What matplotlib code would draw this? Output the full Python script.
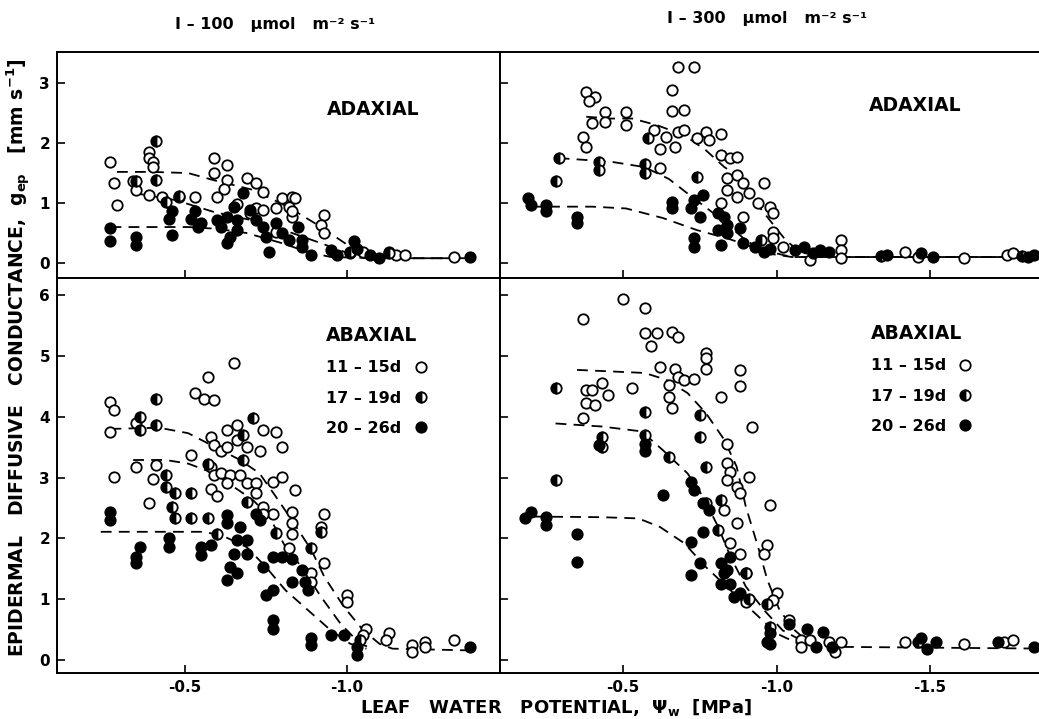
import matplotlib
matplotlib.use("Agg")
import matplotlib.pyplot as plt

plt.rcParams["font.family"] = ["DejaVu Sans"]
plt.rcParams["font.weight"] = "bold"
plt.rcParams["mathtext.default"] = "bf"

# ---- leaf water potential (MPa) and conductance (mm s-1) ----
# I = 100, adaxial
tl_open_x = [-0.27, -0.28, -0.29, -0.39, -0.39, -0.40, -0.40, -0.34, -0.35, -0.39,
             -0.43, -0.48, -0.53, -0.59, -0.63, -0.59, -0.63, -0.69, -0.72, -0.74,
             -0.62, -0.60, -0.66, -0.80, -0.83, -0.82, -0.78, -0.72, -0.74, -0.83,
             -0.78, -0.70, -0.84, -0.83, -0.93, -0.92, -0.93, -1.13, -1.15, -1.18,
             -1.33, -1.01, -1.05]
tl_open_y = [1.69, 1.34, 0.97, 1.86, 1.76, 1.69, 1.60, 1.36, 1.22, 1.13,
             1.10, 1.10, 1.10, 1.76, 1.63, 1.50, 1.38, 1.41, 1.33, 1.19,
             1.24, 1.10, 0.99, 1.08, 1.10, 0.94, 0.91, 0.92, 0.88, 0.77,
             0.52, 0.83, 1.08, 0.86, 0.80, 0.63, 0.50, 0.19, 0.13, 0.13,
             0.10, 0.16, 0.19]
tl_half_x = [-0.41, -0.41, -0.35, -0.48, -0.44, -1.01, -1.13]
tl_half_y = [2.04, 1.38, 1.36, 1.12, 1.02, 0.19, 0.16]
tl_full_x = [-0.27, -0.27, -0.35, -0.35, -0.46, -0.45, -0.46, -0.52, -0.53, -0.54,
             -0.55, -0.60, -0.61, -0.63, -0.64, -0.63, -0.66, -0.66, -0.65, -0.68,
             -0.70, -0.72, -0.74, -0.75, -0.76, -0.78, -0.80, -0.82, -0.85, -0.86,
             -0.89, -0.86, -0.95, -0.97, -1.02, -1.03, -1.07, -1.10, -1.38]
tl_full_y = [0.58, 0.36, 0.44, 0.30, 0.47, 0.74, 0.86, 0.74, 0.86, 0.60,
             0.66, 0.72, 0.60, 0.77, 0.44, 0.33, 0.55, 0.72, 0.94, 1.16,
             0.88, 0.72, 0.60, 0.44, 0.19, 0.66, 0.50, 0.38, 0.60, 0.38,
             0.13, 0.27, 0.22, 0.13, 0.36, 0.24, 0.13, 0.08, 0.10]
tl_fit_open_x = [-0.29, -0.40, -0.51, -0.59, -0.71, -0.82, -0.92, -1.01, -1.09, -1.20, -1.39]
tl_fit_open_y = [1.52, 1.52, 1.50, 1.38, 1.22, 0.93, 0.60, 0.27, 0.10, 0.08, 0.08]
tl_fit_half_x = [-0.34, -0.47, -0.59, -0.70, -0.82, -0.92, -1.00, -1.07, -1.20, -1.39]
tl_fit_half_y = [1.17, 1.05, 0.85, 0.72, 0.52, 0.33, 0.17, 0.10, 0.08, 0.08]
tl_fit_full_x = [-0.27, -0.40, -0.51, -0.60, -0.69, -0.80, -0.88, -0.95, -1.10, -1.39]
tl_fit_full_y = [0.60, 0.60, 0.60, 0.57, 0.50, 0.33, 0.18, 0.10, 0.08, 0.08]

# I = 300, adaxial
tr_open_x = [-0.68, -0.73, -0.66, -0.38, -0.41, -0.39, -0.66, -0.70, -0.44, -0.51,
             -0.40, -0.44, -0.51, -0.37, -0.38, -0.60, -0.64, -0.68, -0.70, -0.74,
             -0.77, -0.78, -0.82, -0.62, -0.67, -0.62, -0.82, -0.85, -0.87, -0.84,
             -0.87, -0.89, -0.84, -0.91, -0.87, -0.94, -0.82, -0.89, -0.96, -0.98,
             -0.99, -0.99, -0.99, -1.02, -1.11, -1.21, -1.21, -1.21, -1.42, -1.46,
             -1.61, -1.75, -1.77]
tr_open_y = [3.27, 3.27, 2.88, 2.86, 2.77, 2.70, 2.54, 2.56, 2.52, 2.52,
             2.33, 2.36, 2.30, 2.10, 1.93, 2.22, 2.10, 2.19, 2.22, 2.08,
             2.19, 2.05, 2.16, 1.90, 1.93, 1.58, 1.80, 1.75, 1.77, 1.41,
             1.47, 1.33, 1.22, 1.16, 1.10, 1.00, 1.00, 0.77, 1.33, 0.94,
             0.83, 0.52, 0.41, 0.27, 0.05, 0.38, 0.22, 0.08, 0.19, 0.10,
             0.08, 0.13, 0.16]
tr_half_x = [-0.29, -0.42, -0.42, -0.57, -0.57, -0.74, -0.58, -0.28, -0.95, -1.34, -1.80]
tr_half_y = [1.76, 1.69, 1.55, 1.66, 1.50, 1.44, 2.08, 1.37, 0.38, 0.12, 0.12]
tr_full_x = [-0.19, -0.20, -0.25, -0.25, -0.35, -0.35, -0.66, -0.66, -0.73, -0.76,
             -0.72, -0.75, -0.73, -0.73, -0.81, -0.83, -0.81, -0.84, -0.82, -0.88,
             -0.89, -0.84, -0.93, -0.96, -0.98, -1.06, -1.09, -1.12, -1.14, -1.17,
             -1.36, -1.47, -1.51, -1.84, -1.82]
tr_full_y = [1.08, 0.97, 0.97, 0.86, 0.77, 0.66, 1.02, 0.91, 1.05, 1.13,
             0.91, 0.77, 0.41, 0.27, 0.83, 0.77, 0.55, 0.63, 0.30, 0.58,
             0.33, 0.50, 0.27, 0.19, 0.24, 0.22, 0.27, 0.16, 0.22, 0.19,
             0.13, 0.16, 0.10, 0.13, 0.10]
tr_fit_open_x = [-0.38, -0.46, -0.53, -0.61, -0.70, -0.77, -0.83, -0.86, -0.96, -1.03, -1.08, -1.20, -1.89]
tr_fit_open_y = [2.44, 2.41, 2.41, 2.30, 2.13, 1.88, 1.60, 1.50, 0.83, 0.38, 0.17, 0.10, 0.10]
tr_fit_half_x = [-0.29, -0.46, -0.57, -0.65, -0.71, -0.81, -0.90, -0.97, -1.05, -1.89]
tr_fit_half_y = [1.75, 1.69, 1.60, 1.40, 1.16, 0.77, 0.38, 0.16, 0.10, 0.10]
tr_fit_full_x = [-0.20, -0.40, -0.51, -0.63, -0.74, -0.84, -0.95, -1.05, -1.89]
tr_fit_full_y = [0.94, 0.94, 0.91, 0.75, 0.55, 0.41, 0.22, 0.10, 0.10]

# I = 100, abaxial
bl_open_x = [-0.65, -0.57, -0.53, -0.56, -0.59, -0.27, -0.28, -0.27, -0.35, -0.66,
             -0.63, -0.74, -0.78, -0.58, -0.59, -0.69, -0.66, -0.73, -0.80, -0.52,
             -0.61, -0.63, -0.35, -0.41, -0.28, -0.40, -0.58, -0.59, -0.61, -0.64,
             -0.67, -0.63, -0.69, -0.72, -0.77, -0.80, -0.58, -0.60, -0.72, -0.39,
             -0.74, -0.77, -0.74, -0.84, -0.83, -0.93, -0.92, -0.83, -0.83, -0.82,
             -0.93, -0.89, -0.89, -1.00, -1.00, -1.06, -1.13, -1.12, -1.20, -1.20,
             -1.24, -1.24, -1.33, -1.05]
bl_open_y = [4.88, 4.66, 4.39, 4.29, 4.28, 4.25, 4.11, 3.75, 3.89, 3.87,
             3.78, 3.78, 3.75, 3.67, 3.54, 3.51, 3.62, 3.43, 3.51, 3.37,
             3.43, 3.51, 3.18, 3.21, 3.01, 2.97, 3.18, 3.04, 3.07, 3.04,
             3.04, 2.91, 2.91, 2.91, 2.93, 3.01, 2.82, 2.69, 2.74, 2.58,
             2.52, 2.41, 2.41, 2.80, 2.44, 2.41, 2.19, 2.25, 2.08, 1.84,
             1.59, 1.43, 1.29, 1.07, 0.96, 0.52, 0.44, 0.33, 0.25, 0.14,
             0.30, 0.22, 0.33, 0.41]
bl_half_x = [-0.41, -0.36, -0.36, -0.41, -0.71, -0.68, -0.44, -0.44, -0.47, -0.52,
             -0.46, -0.47, -0.52, -0.68, -0.57, -0.69, -0.60, -0.57, -0.92, -0.89,
             -1.04, -0.78]
bl_half_y = [4.30, 4.00, 3.78, 3.87, 3.98, 3.70, 3.04, 2.85, 2.74, 2.74,
             2.52, 2.33, 2.33, 3.29, 3.23, 2.60, 2.08, 2.33, 2.11, 1.84,
             0.33, 2.09]
bl_full_x = [-0.27, -0.27, -0.36, -0.35, -0.35, -0.45, -0.45, -0.55, -0.55, -0.58,
             -0.63, -0.63, -0.67, -0.66, -0.65, -0.69, -0.69, -0.64, -0.63, -0.66,
             -0.77, -0.74, -0.75, -0.77, -0.77, -0.77, -0.72, -0.73, -0.80, -0.83,
             -0.86, -0.87, -0.88, -0.83, -0.89, -0.89, -0.95, -0.99, -1.03, -1.03,
             -1.38]
bl_full_y = [2.44, 2.30, 1.86, 1.70, 1.59, 2.00, 1.86, 1.86, 1.73, 1.89,
             2.38, 2.25, 2.19, 1.97, 1.75, 1.97, 1.75, 1.53, 1.32, 1.43,
             1.70, 1.53, 1.07, 1.15, 0.66, 0.52, 2.41, 2.30, 1.70, 1.67,
             1.48, 1.29, 1.15, 1.29, 0.36, 0.25, 0.41, 0.41, 0.22, 0.08,
             0.22]
bl_fit_open_x = [-0.27, -0.42, -0.51, -0.59, -0.67, -0.73, -0.78, -0.83, -0.89, -0.93,
                 -0.99, -1.05, -1.10, -1.14, -1.39]
bl_fit_open_y = [3.80, 3.82, 3.73, 3.51, 3.29, 3.07, 2.69, 2.30, 1.81, 1.37,
                 0.88, 0.49, 0.27, 0.19, 0.16]
bl_fit_half_x = [-0.34, -0.44, -0.51, -0.59, -0.65, -0.71, -0.76, -0.81, -0.86, -0.92, -0.98, -1.04, -1.08]
bl_fit_half_y = [3.29, 3.29, 3.23, 3.07, 2.85, 2.63, 2.36, 1.86, 1.53, 1.04, 0.60, 0.27, 0.19]
bl_fit_full_x = [-0.24, -0.55, -0.61, -0.69, -0.75, -0.81, -0.88, -0.95, -1.01, -1.06]
bl_fit_full_y = [2.11, 2.11, 2.06, 1.86, 1.53, 1.15, 0.82, 0.49, 0.27, 0.19]

# I = 300, abaxial
br_open_x = [-0.50, -0.57, -0.37, -0.57, -0.61, -0.66, -0.68, -0.59, -0.77, -0.77,
             -0.77, -0.62, -0.67, -0.68, -0.70, -0.73, -0.88, -0.88, -0.53, -0.65,
             -0.65, -0.66, -0.82, -0.43, -0.38, -0.40, -0.45, -0.38, -0.41, -0.37,
             -0.92, -0.84, -0.84, -0.85, -0.84, -0.87, -0.88, -0.91, -0.87, -0.83,
             -0.85, -0.88, -0.90, -0.90, -0.98, -0.97, -0.96, -1.00, -0.99, -1.04,
             -1.08, -1.08, -1.11, -1.17, -1.21, -1.19, -1.42, -1.61, -1.74, -1.77]
br_open_y = [5.93, 5.78, 5.60, 5.37, 5.38, 5.40, 5.31, 5.16, 5.05, 4.96,
             4.78, 4.81, 4.78, 4.65, 4.61, 4.62, 4.77, 4.50, 4.47, 4.52,
             4.33, 4.14, 4.33, 4.55, 4.44, 4.44, 4.36, 4.22, 4.19, 3.98,
             3.84, 3.56, 3.24, 3.10, 2.96, 2.85, 2.74, 3.01, 2.25, 2.47,
             1.92, 1.75, 1.43, 0.96, 2.55, 1.89, 1.75, 1.10, 0.99, 0.66,
             0.33, 0.22, 0.33, 0.30, 0.30, 0.14, 0.30, 0.27, 0.30, 0.33]
br_half_x = [-0.28, -0.57, -0.75, -0.43, -0.43, -0.57, -0.65, -0.75, -0.77, -0.28,
             -0.77, -0.82, -0.81, -0.90, -0.97, -0.91, -0.98, -1.46]
br_half_y = [4.47, 4.08, 4.03, 3.67, 3.51, 3.70, 3.34, 3.67, 3.18, 2.96,
             2.58, 2.63, 2.14, 1.43, 0.93, 1.01, 0.55, 0.30]
br_full_x = [-0.57, -0.57, -0.42, -0.63, -0.72, -0.73, -0.76, -0.78, -0.20, -0.18,
             -0.25, -0.25, -0.35, -0.35, -0.76, -0.72, -0.75, -0.72, -0.82, -0.83,
             -0.82, -0.85, -0.84, -0.86, -0.88, -0.85, -0.98, -0.98, -0.97, -1.04,
             -1.10, -1.15, -1.13, -1.18, -1.47, -1.52, -1.49, -1.72, -1.84]
br_full_y = [3.56, 3.43, 3.54, 2.71, 2.93, 2.80, 2.58, 2.47, 2.44, 2.33,
             2.36, 2.22, 2.08, 1.62, 2.11, 1.95, 1.59, 1.40, 1.59, 1.43,
             1.26, 1.26, 1.48, 1.04, 1.10, 1.70, 0.44, 0.27, 0.30, 0.60,
             0.52, 0.47, 0.22, 0.22, 0.36, 0.30, 0.19, 0.30, 0.22]
br_fit_open_x = [-0.35, -0.57, -0.64, -0.71, -0.77, -0.83, -0.87, -0.90, -0.94, -0.97,
                 -1.01, -1.06, -1.11, -1.19, -1.89]
br_fit_open_y = [4.77, 4.72, 4.61, 4.39, 4.06, 3.62, 3.18, 2.52, 1.86, 1.32,
                 0.82, 0.49, 0.27, 0.22, 0.19]
br_fit_half_x = [-0.28, -0.43, -0.56, -0.63, -0.71, -0.76, -0.81, -0.85, -0.90, -0.96, -1.02, -1.09, -1.14]
br_fit_half_y = [3.89, 3.84, 3.76, 3.45, 3.07, 2.69, 2.19, 1.70, 1.21, 0.82, 0.49, 0.30, 0.22]
br_fit_full_x = [-0.21, -0.43, -0.55, -0.62, -0.70, -0.77, -0.85, -0.93, -1.00, -1.08, -1.14]
br_fit_full_y = [2.36, 2.35, 2.33, 2.19, 1.92, 1.53, 1.15, 0.77, 0.44, 0.25, 0.22]

age_labels = ["11 – 15d", "17 – 19d", "20 – 26d"]
col_titles = ["I – 100   µmol   m⁻² s⁻¹", "I – 300   µmol   m⁻² s⁻¹"]

fig = plt.figure(figsize=(10.39, 7.19), dpi=100)

lx, lw = 57 / 1039, 443 / 1039
rx, rw = 500 / 1039, 550 / 1039
top_b, top_h = 1 - 278 / 719, 226 / 719
bot_b, bot_h = 1 - 673 / 719, 395 / 719

ax_tl = fig.add_axes([lx, top_b, lw, top_h])
ax_tr = fig.add_axes([rx, top_b, rw, top_h])
ax_bl = fig.add_axes([lx, bot_b, lw, bot_h])
ax_br = fig.add_axes([rx, bot_b, rw, bot_h])

mk = dict(linestyle="none", marker="o", ms=7.5, mec="black", mew=1.3)
dash = dict(color="black", lw=1.3, linestyle=(0, (6, 4)))


def draw(ax, open_x, open_y, half_x, half_y, full_x, full_y, fits):
    for fx, fy in fits:
        ax.plot(fx, fy, **dash, zorder=1)
    h1, = ax.plot(open_x, open_y, mfc="white", zorder=2, **mk)
    h2, = ax.plot(half_x, half_y, mfc="black", fillstyle="left",
                  markerfacecoloralt="white", zorder=3, **mk)
    h3, = ax.plot(full_x, full_y, mfc="black", zorder=4, **mk)
    return [h1, h2, h3]


draw(ax_tl, tl_open_x, tl_open_y, tl_half_x, tl_half_y, tl_full_x, tl_full_y,
     [(tl_fit_open_x, tl_fit_open_y), (tl_fit_half_x, tl_fit_half_y),
      (tl_fit_full_x, tl_fit_full_y)])
draw(ax_tr, tr_open_x, tr_open_y, tr_half_x, tr_half_y, tr_full_x, tr_full_y,
     [(tr_fit_open_x, tr_fit_open_y), (tr_fit_half_x, tr_fit_half_y),
      (tr_fit_full_x, tr_fit_full_y)])
hb = draw(ax_bl, bl_open_x, bl_open_y, bl_half_x, bl_half_y, bl_full_x, bl_full_y,
          [(bl_fit_open_x, bl_fit_open_y), (bl_fit_half_x, bl_fit_half_y),
           (bl_fit_full_x, bl_fit_full_y)])
hr = draw(ax_br, br_open_x, br_open_y, br_half_x, br_half_y, br_full_x, br_full_y,
          [(br_fit_open_x, br_fit_open_y), (br_fit_half_x, br_fit_half_y),
           (br_fit_full_x, br_fit_full_y)])

# axis ranges (x runs towards more negative potentials)
for ax in (ax_tl, ax_bl):
    ax.set_xlim(-0.105, -1.472)
    ax.set_xticks([-0.5, -1.0])
for ax in (ax_tr, ax_br):
    ax.set_xlim(-0.099, -1.891)
    ax.set_xticks([-0.5, -1.0, -1.5])
for ax in (ax_tl, ax_tr):
    ax.set_ylim(-0.25, 3.52)
    ax.set_yticks([0, 1, 2, 3])
for ax in (ax_bl, ax_br):
    ax.set_ylim(-0.21, 6.28)
    ax.set_yticks(range(7))

for ax in (ax_tl, ax_tr, ax_bl, ax_br):
    ax.tick_params(direction="in", length=6, width=1.2, labelsize=11, pad=5)
    for s in ax.spines.values():
        s.set_linewidth(1.4)

ax_tl.tick_params(labelbottom=False)
ax_tr.tick_params(labelbottom=False, labelleft=False)
ax_br.tick_params(labelleft=False)
ax_bl.set_xticklabels(["-0.5", "-1.0"])
ax_br.set_xticklabels(["-0.5", "-1.0", "-1.5"])

ax_tl.text(0.713, 0.745, "ADAXIAL", transform=ax_tl.transAxes, ha="center",
           va="center", fontsize=13.5, fontweight="bold")
ax_tr.text(0.755, 0.765, "ADAXIAL", transform=ax_tr.transAxes, ha="center",
           va="center", fontsize=13.5, fontweight="bold")

for ax, handles, anchor in ((ax_bl, hb, (0.59, 0.898)), (ax_br, hr, (0.66, 0.903))):
    ax.legend(handles, age_labels, title="ABAXIAL", loc="upper left",
              bbox_to_anchor=anchor, frameon=False, markerfirst=False,
              alignment="left", handlelength=1.0, handletextpad=0.7,
              labelspacing=0.95, borderpad=0,
              prop={"weight": "bold", "size": 11.5},
              title_fontproperties={"weight": "bold", "size": 13.5})

fig.text(275 / 1039, 1 - 24 / 719, col_titles[0], ha="center", va="center",
         fontsize=11.5, fontweight="bold")
fig.text(767 / 1039, 1 - 19 / 719, col_titles[1], ha="center", va="center",
         fontsize=11.5, fontweight="bold")

fig.text(19 / 1039, 1 - 358 / 719,
         r"EPIDERMAL   DIFFUSIVE   CONDUCTANCE,  g$_{ep}$   [mm s$^{-1}$]",
         rotation=90, ha="center", va="center", fontsize=13.5, fontweight="bold")
fig.text(556 / 1039, 1 - 707 / 719, r"LEAF   WATER   POTENTIAL,  $\Psi_w$  [MPa]",
         ha="center", va="center", fontsize=13, fontweight="bold")

fig.savefig("out.png", dpi=100)
